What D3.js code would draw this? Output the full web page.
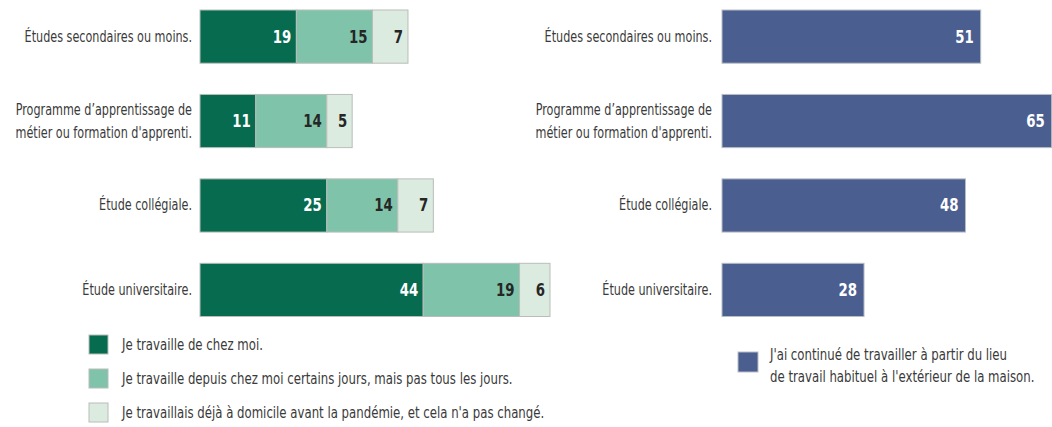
<!DOCTYPE html>
<html>
<head>
<meta charset="utf-8">
<script src="https://cdn.jsdelivr.net/npm/d3@7"></script>
<style>
  body { margin: 0; background: #fff; }
  svg text { font-family: "DejaVu Sans Condensed", "DejaVu Sans", sans-serif; font-stretch: condensed; }
</style>
</head>
<body>
<div id="chart"></div>
<script>
// categories (two lines where the original wraps)
var categories = [
    ["Études secondaires ou moins."],
    ["Programme d’apprentissage de", "métier ou formation d'apprenti."],
    ["Étude collégiale."],
    ["Étude universitaire."]
];
var chezMoi = [19, 11, 25, 44];
var certainsJours = [15, 14, 14, 19];
var dejaDomicile = [7, 5, 7, 6];
var lieuHabituel = [51, 65, 48, 28];

var legendLeft = [
    "Je travaille de chez moi.",
    "Je travaille depuis chez moi certains jours, mais pas tous les jours.",
    "Je travaillais déjà à domicile avant la pandémie, et cela n'a pas changé."
];
var legendRight = ["J'ai continué de travailler à partir du lieu", "de travail habituel à l'extérieur de la maison."];

var greens = ["#066b4f", "#7fc4aa", "#dcebdf"];
var blue = "#4a5e8f";
var textColor = "#3a3a3a";

var width = 1052, height = 427;
var pxPerUnit = 350 / 69;
var squeeze = 0.87; // the original uses a condensed face

var svg = d3.select("#chart").append("svg")
    .attr("width", width)
    .attr("height", height);

var keys = ["a", "b", "c"];
var rows = categories.map(function (c, i) {
    return { cat: i, a: chezMoi[i], b: certainsJours[i], c: dejaDomicile[i], d: lieuHabituel[i] };
});

var y = d3.scaleBand()
    .domain(d3.range(categories.length))
    .range([10, 316.5])
    .paddingInner(0.37)
    .paddingOuter(0);

function drawLabels(g, xRight) {
    var lab = g.selectAll("text.cat")
        .data(categories)
        .enter().append("text")
        .attr("class", "cat")
        .attr("text-anchor", "end")
        .attr("fill", textColor)
        .style("font-size", "15px");
    lab.each(function (lines, i) {
        var t = d3.select(this);
        var cy = y(i) + y.bandwidth() / 2;
        lines.forEach(function (line, j) {
            t.append("tspan")
                .attr("x", xRight)
                .attr("y", cy + 5 + (j - (lines.length - 1) / 2) * 23)
                .text(line);
        });
    });
}

// ---- left panel : stacked bars
var left = svg.append("g");
var xL = d3.scaleLinear().domain([0, 69]).range([200, 200 + 69 * pxPerUnit]);

var stacked = d3.stack().keys(keys)(rows);

drawLabels(left, 192);

stacked.forEach(function (layer, k) {
    var seg = left.append("g");
    seg.selectAll("rect")
        .data(layer)
        .enter().append("rect")
        .attr("x", function (d) { return xL(d[0]); })
        .attr("y", function (d, i) { return y(i); })
        .attr("width", function (d) { return xL(d[1]) - xL(d[0]); })
        .attr("height", y.bandwidth())
        .attr("fill", greens[k])
        .attr("stroke", "#b9bdb9")
        .attr("stroke-width", 1);
    seg.selectAll("text")
        .data(layer)
        .enter().append("text")
        .attr("x", function (d) { return xL(d[1]) - 5; })
        .attr("y", function (d, i) { return y(i) + y.bandwidth() / 2 + 6; })
        .attr("text-anchor", "end")
        .attr("fill", k == 0 ? "#fff" : "#262626")
        .style("font-size", "17px")
        .style("font-weight", "bold")
        .text(function (d) { return d.data[keys[k]]; });
});

// legend left
var lg = left.append("g").selectAll("g")
    .data(legendLeft)
    .enter().append("g")
    .attr("transform", function (d, i) { return "translate(89," + (335 + i * 34) + ")"; });
lg.append("rect")
    .attr("width", 19).attr("height", 19)
    .attr("fill", function (d, i) { return greens[i]; })
    .attr("stroke", "#b9bdb9");
lg.append("text")
    .attr("x", 33).attr("y", 15)
    .attr("fill", textColor)
    .style("font-size", "15px")
    .text(function (d) { return d; });

// ---- right panel : single bars
var right = svg.append("g");
var xR = d3.scaleLinear().domain([0, 65]).range([722, 722 + 65 * pxPerUnit]);

drawLabels(right, 712);

right.selectAll("rect.bar")
    .data(rows)
    .enter().append("rect")
    .attr("class", "bar")
    .attr("x", xR(0))
    .attr("y", function (d, i) { return y(i); })
    .attr("width", function (d) { return xR(d.d) - xR(0); })
    .attr("height", y.bandwidth())
    .attr("fill", blue)
    .attr("stroke", "#b9bdc4");

right.selectAll("text.val")
    .data(rows)
    .enter().append("text")
    .attr("class", "val")
    .attr("x", function (d) { return xR(d.d) - 7; })
    .attr("y", function (d, i) { return y(i) + y.bandwidth() / 2 + 6; })
    .attr("text-anchor", "end")
    .attr("fill", "#fff")
    .style("font-size", "17px")
    .style("font-weight", "bold")
    .text(function (d) { return d.d; });

// legend right
var rl = right.append("g").attr("transform", "translate(738,352)");
rl.append("rect")
    .attr("width", 20).attr("height", 20)
    .attr("fill", blue)
    .attr("stroke", "#b9bdc4");
rl.append("text")
    .attr("fill", textColor)
    .style("font-size", "15px")
    .selectAll("tspan")
    .data(legendRight)
    .enter().append("tspan")
    .attr("x", 32)
    .attr("y", function (d, i) { return 8 + i * 22; })
    .text(function (d) { return d; });

// narrow every line of text to mimic the condensed face
svg.selectAll("text").each(function () {
    var sel = d3.select(this);
    var f = sel.classed("cat") ? 0.83 : squeeze;
    var parts = sel.selectAll("tspan");
    var targets = parts.empty() ? [this] : parts.nodes();
    targets.forEach(function (el) {
        var w = el.getComputedTextLength();
        d3.select(el)
            .attr("textLength", w * f)
            .attr("lengthAdjust", "spacingAndGlyphs");
    });
});
</script>
</body>
</html>
